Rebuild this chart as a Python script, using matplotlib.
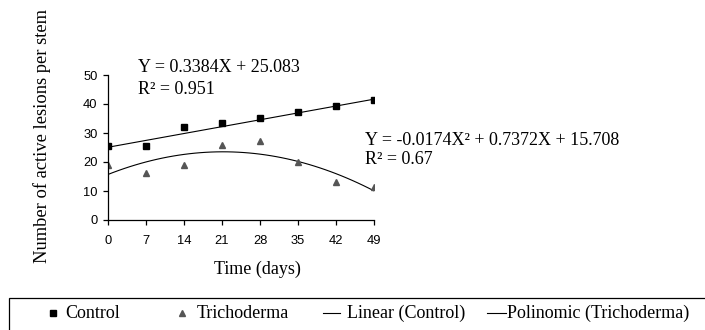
"""Lesions per stem over time: control vs Trichoderma, with Excel-style trendlines."""
import numpy as np
import matplotlib
matplotlib.use("Agg")
import matplotlib.pyplot as plt
from matplotlib.lines import Line2D
from matplotlib.patches import Rectangle

plt.rcParams["font.family"] = ["Liberation Serif", "DejaVu Serif"]

# values
days = [0, 7, 14, 21, 28, 35, 42, 49]
control = [25.5, 25.5, 32.1, 33.6, 35.3, 37.4, 39.2, 41.3]
trichoderma = [18.9, 16.2, 19.1, 26.0, 27.3, 19.9, 13.0, 11.3]

# trendline coefficients as printed on the chart (highest power first)
linear_coef = [0.3384, 25.083]
poly_coef = [-0.0174, 0.7372, 15.708]

eq_control = ["Y = 0.3384X + 25.083", "R\u00b2 = 0.951"]
eq_tricho = ["Y = -0.0174X\u00b2 + 0.7372X + 15.708", "R\u00b2 = 0.67"]
x_ticks = days
y_ticks = [0, 10, 20, 30, 40, 50]

W, H = 705, 330
fig = plt.figure(figsize=(W / 100, H / 100), dpi=100)
ax = fig.add_axes([108 / W, 110 / H, 266 / W, 145 / H])

xs = np.linspace(0, 49, 50)
ax.plot(xs, np.polyval(linear_coef, xs), color="black", lw=0.8)
ax.plot(xs, np.polyval(poly_coef, xs), color="black", lw=0.8)
ax.plot(days, control, ls="none", marker="s", ms=4.6, color="black")
ax.plot(days, trichoderma, ls="none", marker="^", ms=5.0, color="#555555")

ax.set_xlim(0, 49)
ax.set_ylim(0, 50)
ax.set_xticks(x_ticks)
ax.set_yticks(y_ticks)
for s in ("top", "right"):
    ax.spines[s].set_visible(False)
for s in ("left", "bottom"):
    ax.spines[s].set_linewidth(0.9)
ax.tick_params(axis="both", direction="out", length=3.5, width=0.9, pad=4)
ax.tick_params(axis="x", pad=7)
for lab in ax.get_xticklabels() + ax.get_yticklabels():
    lab.set_fontfamily("Liberation Sans")
    lab.set_fontsize(9.3)

fig.text(42 / W, 1 - 136 / H, "Number of active lesions per stem",
         rotation=90, ha="center", va="center", fontsize=13.3)
fig.text(257 / W, 1 - 269 / H, "Time (days)", ha="center", va="center", fontsize=13)

# trendline equations
fs = 13
fig.text(138 / W, 1 - 68 / H, eq_control[0], ha="left", va="center", fontsize=fs)
fig.text(138 / W, 1 - 89 / H, eq_control[1], ha="left", va="center", fontsize=fs)
fig.text(365 / W, 1 - 140 / H, eq_tricho[0], ha="left", va="center", fontsize=fs)
fig.text(365 / W, 1 - 160 / H, eq_tricho[1], ha="left", va="center", fontsize=fs)

# legend box, running off the right and bottom edges like the reference
fig.add_artist(Rectangle((9 / W, -0.2), 1.2, 1 - 298 / H + 0.2,
                         transform=fig.transFigure, fill=False,
                         edgecolor="black", lw=0.9))
ly = 1 - 313 / H
fig.add_artist(Line2D([53 / W], [ly], marker="s", ms=4.2, color="black",
                      ls="none", transform=fig.transFigure))
fig.text(65 / W, ly, "Control", ha="left", va="center", fontsize=fs)
fig.add_artist(Line2D([182 / W], [ly], marker="^", ms=4.5, color="#555555",
                      ls="none", transform=fig.transFigure))
fig.text(197 / W, ly, "Trichoderma", ha="left", va="center", fontsize=fs)
fig.add_artist(Line2D([323 / W, 340 / W], [ly, ly], color="black", lw=0.8,
                      transform=fig.transFigure))
fig.text(347 / W, ly, "Linear (Control)", ha="left", va="center", fontsize=fs)
fig.add_artist(Line2D([487 / W, 506 / W], [ly, ly], color="black", lw=0.8,
                      transform=fig.transFigure))
fig.text(507 / W, ly, "Polinomic (Trichoderma)", ha="left", va="center", fontsize=fs)

fig.savefig("out.png", dpi=100)
